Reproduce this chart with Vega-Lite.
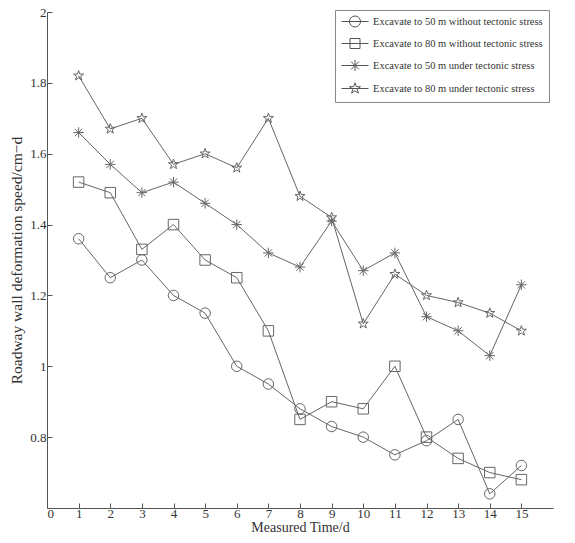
{
  "$schema": "https://vega.github.io/schema/vega-lite/v6.json",
  "width": 506,
  "height": 496,
  "autosize": "none",
  "padding": {"left": 47, "top": 12, "right": 22, "bottom": 35},
  "background": "white",
  "config": {
    "view": {"stroke": null},
    "font": "Liberation Serif",
    "axis": {
      "grid": false,
      "domainColor": "#555",
      "tickColor": "#555",
      "labelColor": "#333",
      "titleColor": "#333",
      "labelFont": "Liberation Serif",
      "titleFont": "Liberation Serif",
      "labelFontSize": 13,
      "titleFontSize": 14,
      "titleFontWeight": "normal",
      "tickSize": -5
    }
  },
  "data": {
    "values": [
      {"t": 1, "v": 1.36, "s": "Excavate to 50 m without tectonic stress"},
      {"t": 2, "v": 1.25, "s": "Excavate to 50 m without tectonic stress"},
      {"t": 3, "v": 1.30, "s": "Excavate to 50 m without tectonic stress"},
      {"t": 4, "v": 1.20, "s": "Excavate to 50 m without tectonic stress"},
      {"t": 5, "v": 1.15, "s": "Excavate to 50 m without tectonic stress"},
      {"t": 6, "v": 1.00, "s": "Excavate to 50 m without tectonic stress"},
      {"t": 7, "v": 0.95, "s": "Excavate to 50 m without tectonic stress"},
      {"t": 8, "v": 0.88, "s": "Excavate to 50 m without tectonic stress"},
      {"t": 9, "v": 0.83, "s": "Excavate to 50 m without tectonic stress"},
      {"t": 10, "v": 0.80, "s": "Excavate to 50 m without tectonic stress"},
      {"t": 11, "v": 0.75, "s": "Excavate to 50 m without tectonic stress"},
      {"t": 12, "v": 0.79, "s": "Excavate to 50 m without tectonic stress"},
      {"t": 13, "v": 0.85, "s": "Excavate to 50 m without tectonic stress"},
      {"t": 14, "v": 0.64, "s": "Excavate to 50 m without tectonic stress"},
      {"t": 15, "v": 0.72, "s": "Excavate to 50 m without tectonic stress"},
      {"t": 1, "v": 1.52, "s": "Excavate to 80 m without tectonic stress"},
      {"t": 2, "v": 1.49, "s": "Excavate to 80 m without tectonic stress"},
      {"t": 3, "v": 1.33, "s": "Excavate to 80 m without tectonic stress"},
      {"t": 4, "v": 1.40, "s": "Excavate to 80 m without tectonic stress"},
      {"t": 5, "v": 1.30, "s": "Excavate to 80 m without tectonic stress"},
      {"t": 6, "v": 1.25, "s": "Excavate to 80 m without tectonic stress"},
      {"t": 7, "v": 1.10, "s": "Excavate to 80 m without tectonic stress"},
      {"t": 8, "v": 0.85, "s": "Excavate to 80 m without tectonic stress"},
      {"t": 9, "v": 0.90, "s": "Excavate to 80 m without tectonic stress"},
      {"t": 10, "v": 0.88, "s": "Excavate to 80 m without tectonic stress"},
      {"t": 11, "v": 1.00, "s": "Excavate to 80 m without tectonic stress"},
      {"t": 12, "v": 0.80, "s": "Excavate to 80 m without tectonic stress"},
      {"t": 13, "v": 0.74, "s": "Excavate to 80 m without tectonic stress"},
      {"t": 14, "v": 0.70, "s": "Excavate to 80 m without tectonic stress"},
      {"t": 15, "v": 0.68, "s": "Excavate to 80 m without tectonic stress"},
      {"t": 1, "v": 1.66, "s": "Excavate to 50 m under tectonic stress"},
      {"t": 2, "v": 1.57, "s": "Excavate to 50 m under tectonic stress"},
      {"t": 3, "v": 1.49, "s": "Excavate to 50 m under tectonic stress"},
      {"t": 4, "v": 1.52, "s": "Excavate to 50 m under tectonic stress"},
      {"t": 5, "v": 1.46, "s": "Excavate to 50 m under tectonic stress"},
      {"t": 6, "v": 1.40, "s": "Excavate to 50 m under tectonic stress"},
      {"t": 7, "v": 1.32, "s": "Excavate to 50 m under tectonic stress"},
      {"t": 8, "v": 1.28, "s": "Excavate to 50 m under tectonic stress"},
      {"t": 9, "v": 1.41, "s": "Excavate to 50 m under tectonic stress"},
      {"t": 10, "v": 1.27, "s": "Excavate to 50 m under tectonic stress"},
      {"t": 11, "v": 1.32, "s": "Excavate to 50 m under tectonic stress"},
      {"t": 12, "v": 1.14, "s": "Excavate to 50 m under tectonic stress"},
      {"t": 13, "v": 1.10, "s": "Excavate to 50 m under tectonic stress"},
      {"t": 14, "v": 1.03, "s": "Excavate to 50 m under tectonic stress"},
      {"t": 15, "v": 1.23, "s": "Excavate to 50 m under tectonic stress"},
      {"t": 1, "v": 1.82, "s": "Excavate to 80 m under tectonic stress"},
      {"t": 2, "v": 1.67, "s": "Excavate to 80 m under tectonic stress"},
      {"t": 3, "v": 1.70, "s": "Excavate to 80 m under tectonic stress"},
      {"t": 4, "v": 1.57, "s": "Excavate to 80 m under tectonic stress"},
      {"t": 5, "v": 1.60, "s": "Excavate to 80 m under tectonic stress"},
      {"t": 6, "v": 1.56, "s": "Excavate to 80 m under tectonic stress"},
      {"t": 7, "v": 1.70, "s": "Excavate to 80 m under tectonic stress"},
      {"t": 8, "v": 1.48, "s": "Excavate to 80 m under tectonic stress"},
      {"t": 9, "v": 1.42, "s": "Excavate to 80 m under tectonic stress"},
      {"t": 10, "v": 1.12, "s": "Excavate to 80 m under tectonic stress"},
      {"t": 11, "v": 1.26, "s": "Excavate to 80 m under tectonic stress"},
      {"t": 12, "v": 1.20, "s": "Excavate to 80 m under tectonic stress"},
      {"t": 13, "v": 1.18, "s": "Excavate to 80 m under tectonic stress"},
      {"t": 14, "v": 1.15, "s": "Excavate to 80 m under tectonic stress"},
      {"t": 15, "v": 1.10, "s": "Excavate to 80 m under tectonic stress"}
    ]
  },
  "encoding": {
    "x": {
      "field": "t", "type": "quantitative",
      "scale": {"domain": [0, 16], "nice": false},
      "axis": {"values": [0,1,2,3,4,5,6,7,8,9,10,11,12,13,14,15], "format": "~g", "title": "Measured Time/d", "labelPadding": 4, "titlePadding": 0}
    },
    "y": {
      "field": "v", "type": "quantitative",
      "scale": {"domain": [0.6, 2], "nice": false, "zero": false},
      "axis": {"values": [0.8, 1, 1.2, 1.4, 1.6, 1.8, 2], "format": "~g", "title": "Roadway wall deformation speed/cm−d", "titleFontSize": 15.5, "labelPadding": 6, "titlePadding": 5}
    }
  },
  "resolve": {"scale": {"shape": "independent"}, "legend": {"shape": "independent"}},
  "layer": [
    {
      "mark": {"type": "line", "stroke": "#666", "strokeWidth": 1},
      "encoding": {"detail": {"field": "s"}}
    },
    {
      "mark": {"type": "point", "filled": false, "stroke": "#666", "strokeWidth": 1, "size": 110, "opacity": 1},
      "encoding": {
        "shape": {
          "field": "s", "type": "nominal",
          "scale": {
            "domain": ["Excavate to 50 m without tectonic stress", "Excavate to 80 m without tectonic stress", "Excavate to 50 m under tectonic stress", "Excavate to 80 m under tectonic stress"],
            "range": ["circle", "square", "M0,-1L0,1M-1,0L1,0M-0.7,-0.7L0.7,0.7M-0.7,0.7L0.7,-0.7", "M0,-1L0.235,-0.324L0.951,-0.309L0.380,0.124L0.588,0.809L0,0.4L-0.588,0.809L-0.380,0.124L-0.951,-0.309L-0.235,-0.324Z"]
          },
          "legend": null
        }
      }
    },
    {
      "mark": {"type": "point", "filled": false, "stroke": "#555", "strokeWidth": 1, "size": 100, "opacity": 0},
      "encoding": {
        "shape": {
          "field": "s", "type": "nominal",
          "scale": {
            "domain": ["Excavate to 50 m without tectonic stress", "Excavate to 80 m without tectonic stress", "Excavate to 50 m under tectonic stress", "Excavate to 80 m under tectonic stress"],
            "range": [
              "M-1,0L4.4,0M2.8,0A1.1,1.1,0,1,1,0.6,0A1.1,1.1,0,1,1,2.8,0",
              "M-1,0L4.4,0M0.7,-1H2.7V1H0.7Z",
              "M-1,0L4.4,0M1.7,-1.1V1.1M0.92,-0.78L2.48,0.78M0.92,0.78L2.48,-0.78",
              "M-1,0L4.4,0M1.7,-1.15L1.97,-0.373L2.794,-0.355L2.137,0.143L2.376,0.93L1.7,0.46L1.024,0.93L1.263,0.143L0.606,-0.355L1.43,-0.373Z"
            ]
          },
          "legend": {
            "title": null,
            "orient": "none",
            "legendX": 288,
            "legendY": -2,
            "padding": 6,
            "rowPadding": 7,
            "strokeColor": "#888",
            "fillColor": "white",
            "labelFont": "Liberation Serif",
            "labelFontSize": 10.5,
            "labelColor": "#333",
            "labelOffset": 21,
            "symbolSize": 100,
            "symbolOpacity": 1,
            "symbolStrokeColor": "#555",
            "symbolFillColor": "transparent",
            "symbolStrokeWidth": 1,
            "labelLimit": 400
          }
        }
      }
    }
  ]
}
